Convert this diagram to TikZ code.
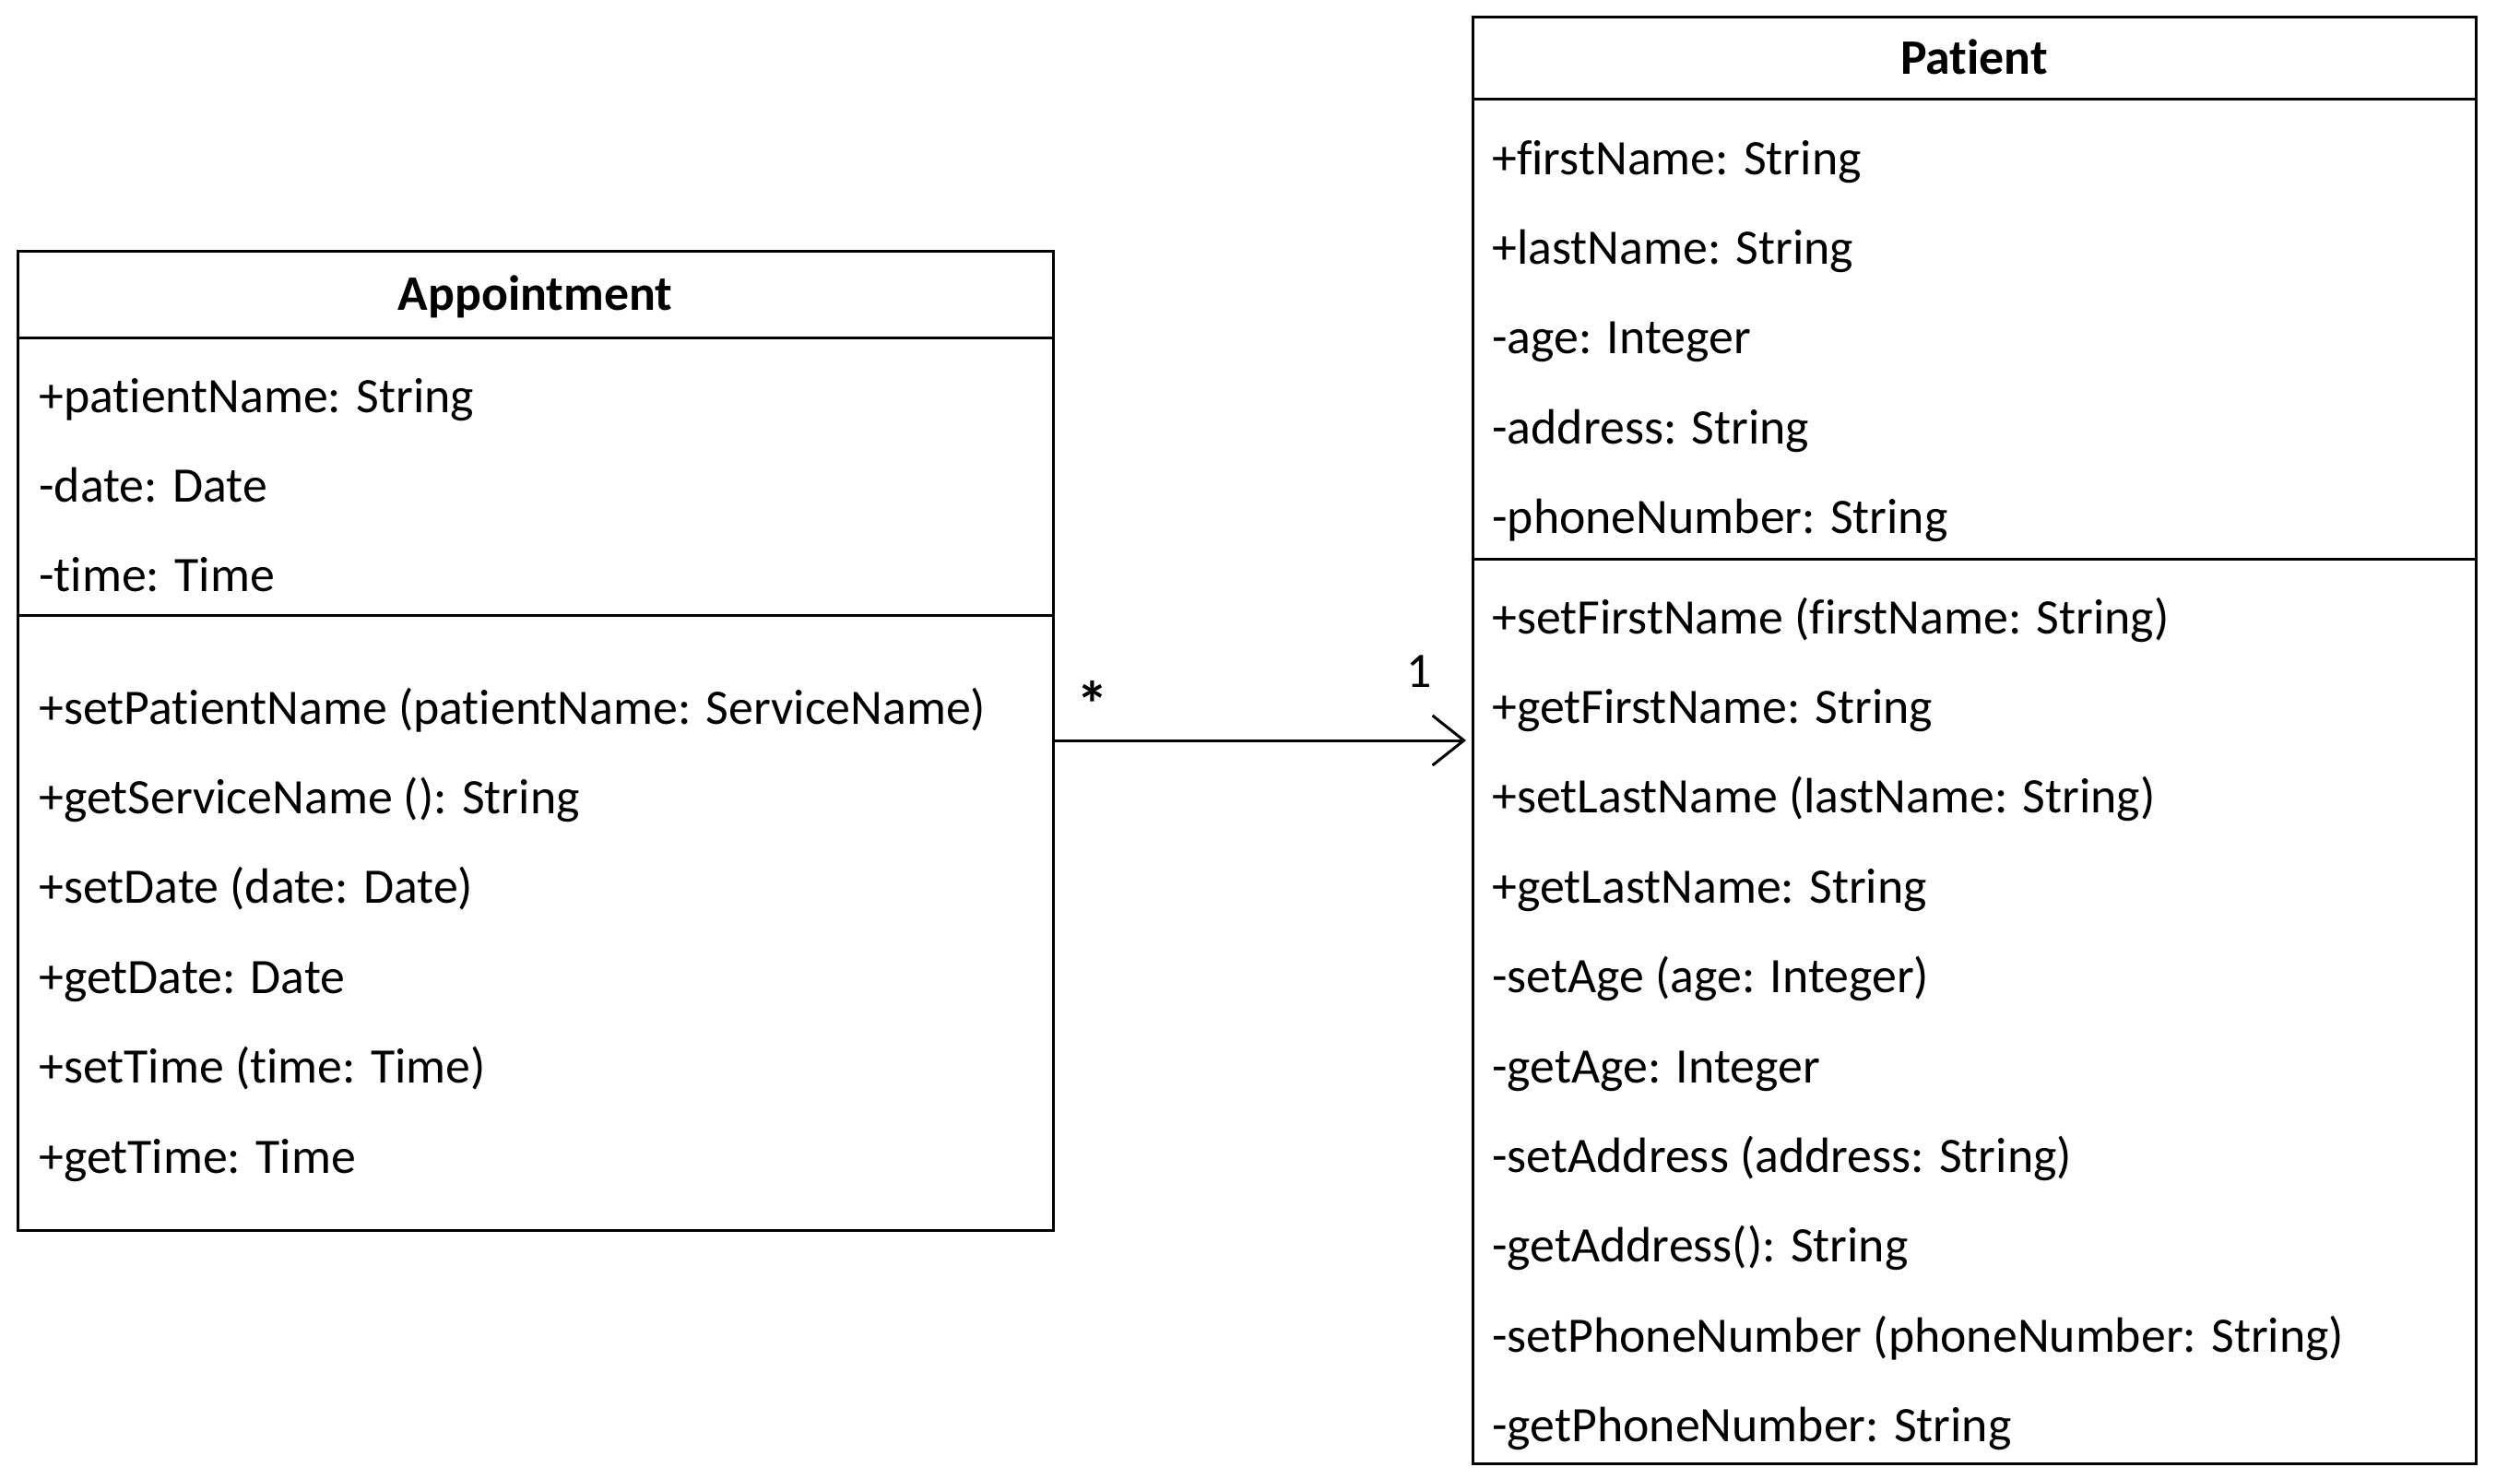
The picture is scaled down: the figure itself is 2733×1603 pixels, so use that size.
\documentclass[tikz,border=0pt]{standalone}
\usepackage{fontspec}
\setmainfont{Carlito}[Ligatures=NoCommon]
\usetikzlibrary{arrows.meta}
\tikzset{
  classbox/.style={draw, line width=1.5pt, inner sep=0pt, outer sep=0pt, anchor=north west},
  sepline/.style={line width=1.5pt},
  member/.style={anchor=base west, inner sep=0pt, font=\fontsize{26.9pt}{30pt}\selectfont},
  title/.style={anchor=base, inner sep=0pt, font=\fontsize{26.9pt}{30pt}\selectfont\bfseries},
  mult/.style={anchor=center, inner sep=0pt, font=\fontsize{26.9pt}{30pt}\selectfont},
  star/.style={anchor=base, inner sep=0pt, font=\fontsize{35pt}{38pt}\selectfont\bfseries},
  assoc/.style={line width=1.5pt, -{Straight Barb[length=17pt, width=27pt, line width=1.5pt]}, shorten >=3.5pt}
}
\begin{document}
\begin{tikzpicture}[x=0.5pt, y=-0.5pt]
\useasboundingbox (0,0) rectangle (2733,1603);
% Appointment class
\node[classbox, minimum width=561.5pt, minimum height=531pt] (app) at (19,272) {};
\draw[sepline] (app.west |- 0,366) -- (app.east |- 0,366);
\draw[sepline] (app.west |- 0,667) -- (app.east |- 0,667);
\node[title] (appT) at (580.5,336) {Appointment};
\node[member] (a1) at (42,447) {+patientName: String};
\node[member] (a2) at (42,544.4) {-date: Date};
\node[member] (a3) at (42,641.8) {-time: Time};
\node[member] (a4) at (42,785) {+setPatientName (patientName: ServiceName)};
\node[member] (a5) at (42,882.4) {+getServiceName (): String};
\node[member] (a6) at (42,979.8) {+setDate (date: Date)};
\node[member] (a7) at (42,1077.2) {+getDate: Date};
\node[member] (a8) at (42,1174.6) {+setTime (time: Time)};
\node[member] (a9) at (42,1272) {+getTime: Time};
% Patient class
\node[classbox, minimum width=544pt, minimum height=784.5pt] (pat) at (1597,18) {};
\draw[sepline] (pat.west |- 0,107) -- (pat.east |- 0,107);
\draw[sepline] (pat.west |- 0,606) -- (pat.east |- 0,606);
\node[title] (patT) at (2141,80) {Patient};
\node[member] (p1) at (1618,189) {+firstName: String};
\node[member] (p2) at (1618,286.4) {+lastName: String};
\node[member] (p3) at (1618,383.8) {-age: Integer};
\node[member] (p4) at (1618,481.2) {-address: String};
\node[member] (p5) at (1618,578.6) {-phoneNumber: String};
\node[member] (p6) at (1618,687) {+setFirstName (firstName: String)};
\node[member] (p7) at (1618,784.4) {+getFirstName: String};
\node[member] (p8) at (1618,881.8) {+setLastName (lastName: String)};
\node[member] (p9) at (1618,979.2) {+getLastName: String};
\node[member] (p10) at (1618,1076.6) {-setAge (age: Integer)};
\node[member] (p11) at (1618,1174) {-getAge: Integer};
\node[member] (p12) at (1618,1271.4) {-setAddress (address: String)};
\node[member] (p13) at (1618,1368.8) {-getAddress(): String};
\node[member] (p14) at (1618,1466.2) {-setPhoneNumber (phoneNumber: String)};
\node[member] (p15) at (1618,1563.6) {-getPhoneNumber: String};
% association
\draw[assoc] (app.east |- 0,803) -- (pat.west |- 0,803);
\node[star] (m1) at (1185,788) {*};
\node[mult] (m2) at (1539,728) {1};
\end{tikzpicture}
\end{document}
